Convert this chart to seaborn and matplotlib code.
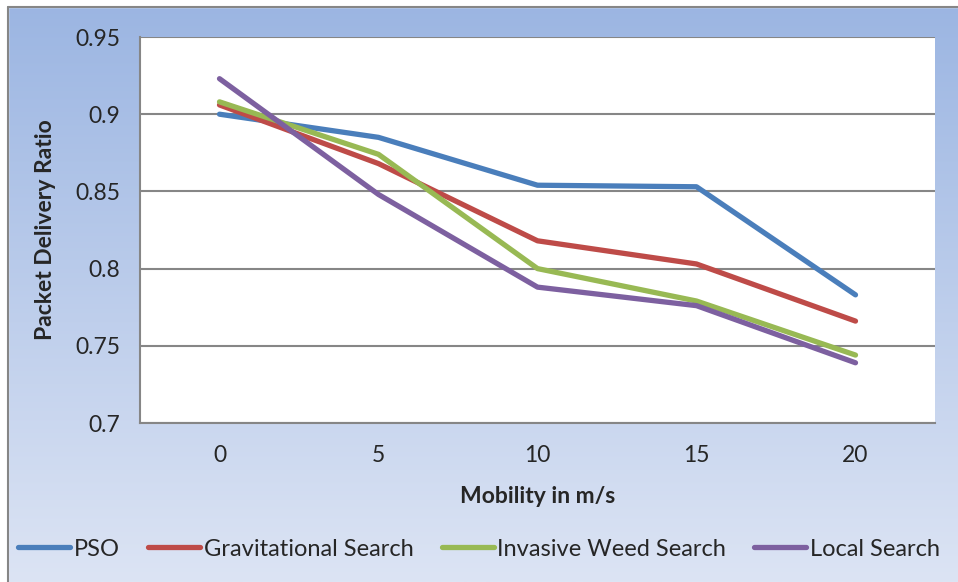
import numpy as np
import pandas as pd
import matplotlib
matplotlib.use("Agg")
import matplotlib.pyplot as plt
import seaborn as sns
from matplotlib.patches import Rectangle

mobility = [0, 5, 10, 15, 20]
pso = [0.900, 0.885, 0.854, 0.853, 0.783]
gravitational = [0.906, 0.868, 0.818, 0.803, 0.766]
invasive_weed = [0.908, 0.874, 0.800, 0.779, 0.744]
local_search = [0.923, 0.848, 0.788, 0.776, 0.739]
series_names = ["PSO", "Gravitational Search", "Invasive Weed Search", "Local Search"]
colors = ["#4A7EBB", "#BE4B48", "#98B954", "#7D60A0"]
y_ticks = [0.7, 0.75, 0.8, 0.85, 0.9, 0.95]
y_ticklabels = ["0.7", "0.75", "0.8", "0.85", "0.9", "0.95"]

rows = []
for name, vals in zip(series_names, [pso, gravitational, invasive_weed, local_search]):
    for m, v in zip(mobility, vals):
        rows.append({"Mobility": m, "PDR": v, "Method": name})
df = pd.DataFrame(rows)

sns.set_theme(style="white")
plt.rcParams["font.family"] = ["Lato", "DejaVu Sans"]

fig = plt.figure(figsize=(9.58, 5.82), dpi=100)

# gradient background
bg = fig.add_axes([0, 0, 1, 1], zorder=-10)
grad = np.linspace(0, 1, 256).reshape(-1, 1)
top = np.array([0x9B, 0xB5, 0xE2]) / 255
bot = np.array([0xDC, 0xE4, 0xF4]) / 255
img = top[None, None, :] * (1 - grad[:, :, None]) + bot[None, None, :] * grad[:, :, None]
bg.imshow(img, aspect="auto", extent=[0, 1, 0, 1], origin="upper")
bg.set_xlim(0, 1)
bg.set_ylim(0, 1)
bg.axis("off")
# white margin and frame border
bg.add_patch(Rectangle((0, 1 - 7 / 582), 1, 7 / 582, color="white", zorder=2))
bg.add_patch(Rectangle((0, 0), 8 / 958, 1, color="white", zorder=2))
bg.plot([8 / 958, 8 / 958], [0, 1 - 7 / 582], color="#868686", lw=1.5, zorder=3)
bg.plot([8 / 958, 1], [1 - 7 / 582, 1 - 7 / 582], color="#868686", lw=1.5, zorder=3)

ax = fig.add_axes([140 / 958, 159 / 582, 795 / 958, 386 / 582])
ax.set_facecolor("white")
sns.lineplot(data=df, x="Mobility", y="PDR", hue="Method", palette=colors,
             linewidth=3.8, ax=ax, legend=True, zorder=3)
for ln in ax.get_lines():
    ln.set_solid_capstyle("round")
    ln.set_solid_joinstyle("round")

ax.set_xlim(-2.5, 22.5)
ax.set_ylim(0.7, 0.95)
ax.set_yticks(y_ticks)
ax.set_yticklabels(y_ticklabels)
ax.set_xticks(mobility)
ax.set_xticklabels([str(m) for m in mobility])
ax.grid(axis="y", color="#868686", linewidth=1.5, zorder=0)
ax.grid(axis="x", visible=False)
for s in ["top", "right"]:
    ax.spines[s].set_visible(False)
for s in ["left", "bottom"]:
    ax.spines[s].set_color("#868686")
    ax.spines[s].set_linewidth(1.5)
ax.tick_params(axis="y", length=6, width=1.5, color="#868686", labelsize=16.5, pad=8)
ax.tick_params(axis="x", length=0, labelsize=16.5, pad=16)
ax.set_xlabel("Mobility in m/s", fontsize=16.5, fontweight="bold", labelpad=14)
ax.set_ylabel("Packet Delivery Ratio", fontsize=16.5, fontweight="bold", labelpad=14)

handles, labels = ax.get_legend_handles_labels()
ax.get_legend().remove()
for h in handles:
    h.set_linewidth(3.8)
fig.legend(handles, labels, loc="center", bbox_to_anchor=(0.5, 1 - 549 / 582),
           ncol=4, frameon=False, fontsize=17, handlelength=2.2, handletextpad=0.15,
           columnspacing=1.2)

fig.savefig("out.png", dpi=100)
